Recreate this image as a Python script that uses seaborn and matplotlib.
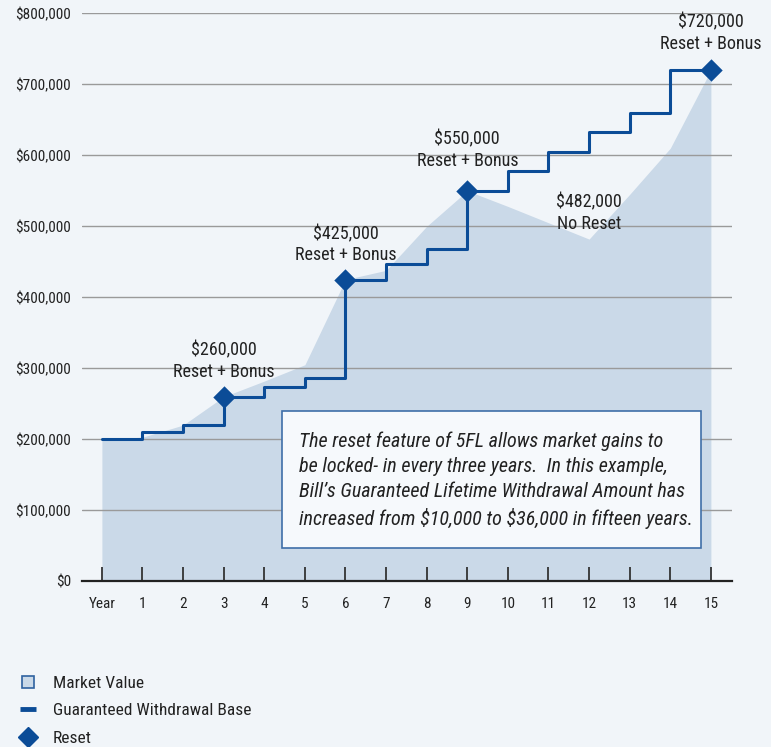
import matplotlib
matplotlib.use("Agg")
import matplotlib.pyplot as plt
from matplotlib import font_manager
from matplotlib.lines import Line2D
from matplotlib.patches import Rectangle
from matplotlib.ticker import FuncFormatter
import seaborn as sns
import pandas as pd

# ---------------- data ----------------
years = list(range(16))
year_labels = ["Year"] + [str(i) for i in range(1, 16)]
market_value = [200000, 203000, 220000, 260000, 282000, 305000, 425000, 438000,
                500000, 550000, 528000, 505000, 482000, 545000, 610000, 720000]
withdrawal_base = [200000, 210000, 220000, 260000, 273000, 286000, 425000, 446250,
                   467500, 550000, 577500, 605000, 632500, 660000, 720000, 720000]
reset_years = [3, 6, 9, 15]
reset_values = [260000, 425000, 550000, 720000]
label_years = [3, 6, 9, 12, 15]
label_values = [260000, 425000, 550000, 482000, 720000]
label_texts = ["$260,000\nReset + Bonus", "$425,000\nReset + Bonus",
               "$550,000\nReset + Bonus", "$482,000\nNo Reset",
               "$720,000\nReset + Bonus"]
y_ticks = [0, 100000, 200000, 300000, 400000, 500000, 600000, 700000, 800000]
box_text = ("The reset feature of 5FL allows market gains to\n"
            "be locked- in every three years.  In this example,\n"
            "Bill\u2019s Guaranteed Lifetime Withdrawal Amount has\n"
            "increased from $10,000 to $36,000 in fifteen years.")
legend_labels = ["Market Value", "Guaranteed Withdrawal Base", "Reset"]

# ---------------- style ----------------
BG = "#f1f5f9"
FILL = "#cad9e8"
LINE = "#0b4c97"
TXT = "#222222"
# vertical pixel offsets of the value labels above their points (layout only)
LABEL_OFFSETS = {3: 36, 6: 35, 9: 41, 12: 26, 15: 37}

sns.set_theme(style="white")


def pick_font():
    fl = font_manager.fontManager.ttflist
    names = {f.name for f in fl}
    for n in ["Liberation Sans Narrow", "Roboto Condensed", "Open Sans Condensed",
              "Noto Sans Condensed", "Arial Narrow", "DejaVu Sans Condensed"]:
        if n in names:
            return n, "normal"
    cond = ("condensed", "semi-condensed", "extra-condensed", "ultra-condensed")
    for fam in ["Roboto", "Noto Sans", "Open Sans", "DejaVu Sans", "Liberation Sans"]:
        for f in fl:
            if f.name == fam and str(f.stretch) in cond:
                return fam, str(f.stretch)
    return "Liberation Sans", "normal"


main_font, stretch = pick_font()
plt.rcParams["font.family"] = [main_font, "DejaVu Sans"]
plt.rcParams["font.stretch"] = stretch
plt.rcParams["text.parse_math"] = False

df = pd.DataFrame({"year": years, "market": market_value, "base": withdrawal_base})
rdf = pd.DataFrame({"year": reset_years, "value": reset_values})

W, H = 771, 747
fig = plt.figure(figsize=(W / 100, H / 100), dpi=100, facecolor=BG)
ax = fig.add_axes([82 / W, (H - 581.3) / H, (732 - 82) / W, (581.3 - 13.3) / H])
ax.set_facecolor(BG)
ax.set_axisbelow(False)

# area
ax.fill_between(df["year"], 0, df["market"], color=FILL, lw=0, zorder=1)
# gridlines above area
for v in y_ticks[1:]:
    ax.axhline(v, color="#9a9a9a", lw=1.0, zorder=1.5)

# step line
sns.lineplot(data=df, x="year", y="base", drawstyle="steps-post", color=LINE,
             lw=2.2, ax=ax, zorder=3, legend=False)
# reset diamonds
sns.scatterplot(data=rdf, x="year", y="value", marker="D", s=130, color=LINE,
                edgecolor=LINE, linewidth=0, ax=ax, zorder=4, legend=False)

# labels
for yr, val, txt in zip(label_years, label_values, label_texts):
    ax.annotate(txt, xy=(yr, val), xytext=(0, LABEL_OFFSETS.get(yr, 36)),
                textcoords="offset pixels", ha="center", va="center",
                fontsize=13, color=TXT, linespacing=1.25, zorder=6)

ax.set_xlim(-0.49, 15.52)
ax.set_ylim(0, 800000)
ax.set_xticks(years)
ax.set_xticklabels(year_labels)
ax.set_yticks(y_ticks)
ax.yaxis.set_major_formatter(FuncFormatter(lambda v, p: f"${v:,.0f}"))
ax.set_xlabel("")
ax.set_ylabel("")
for s in ["top", "right", "left"]:
    ax.spines[s].set_visible(False)
ax.spines["bottom"].set_color("#222222")
ax.spines["bottom"].set_linewidth(1.6)
ax.spines["bottom"].set_zorder(5)
ax.tick_params(axis="x", direction="in", length=10, width=1.3, color="#333333",
               pad=11, labelsize=11, labelcolor=TXT, bottom=True)
ax.tick_params(axis="y", length=0, pad=8, labelsize=11, labelcolor=TXT)

# text box
ax.add_patch(Rectangle((282 / W, (H - 548) / H), 419 / W, 137 / H,
                       transform=fig.transFigure, facecolor="#f6f9fc",
                       edgecolor="#3f6fa8", lw=1.2, zorder=7, clip_on=False))
fig.text(299 / W, (H - 480.5) / H, box_text, ha="left", va="center",
         fontsize=14.5, style="italic", color=TXT, linespacing=1.40, zorder=8)

# legend
handles = [
    Line2D([], [], ls="none", marker="s", markersize=9, markerfacecolor=FILL,
           markeredgecolor="#2f62a0", markeredgewidth=1.2),
    Line2D([], [], ls="none", marker="_", markersize=11, markeredgecolor=LINE,
           markeredgewidth=3.5),
    Line2D([], [], ls="none", marker="D", markersize=10, markerfacecolor=LINE,
           markeredgecolor=LINE),
]
fig.legend(handles, legend_labels, loc="upper left",
           bbox_to_anchor=(19 / W, (H - 676) / H), frameon=False, fontsize=12.5,
           handlelength=1.0, handletextpad=0.95, labelspacing=0.7,
           borderpad=0, borderaxespad=0, labelcolor=TXT)

fig.savefig("out.png", dpi=100, facecolor=BG)
